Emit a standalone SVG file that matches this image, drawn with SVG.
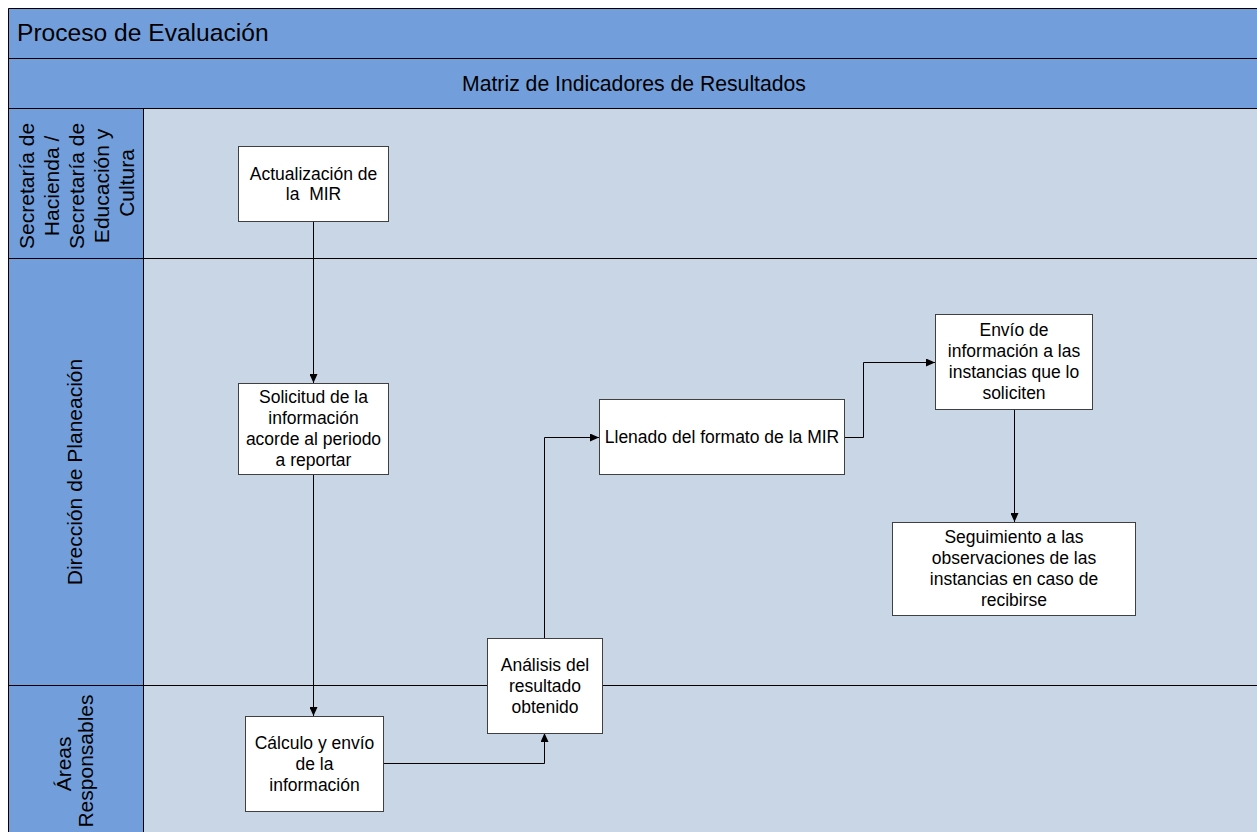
<svg xmlns="http://www.w3.org/2000/svg" width="1257" height="832" viewBox="0 0 1257 832">
<style>
.hdr{fill:#729fdb}
.lanebg{fill:#c9d6e6}
.ln{stroke:#000;stroke-width:1;fill:none}
.node rect{fill:#fff;stroke:#404040;stroke-width:1}
.t{font-family:"Liberation Sans",Arial,sans-serif;font-size:17.5px;fill:#000;text-anchor:middle;white-space:pre}
.lbl{font-family:"Liberation Sans",Arial,sans-serif;font-size:21px;fill:#000;text-anchor:middle}
.sub{font-size:21.2px}
.title{font-family:"Liberation Sans",Arial,sans-serif;font-size:24.6px;fill:#000}
.conn path{stroke:#000;stroke-width:1;fill:none;marker-end:url(#arr)}
</style>
<defs>
<marker id="arr" viewBox="0 0 9 8" refX="9" refY="4" markerWidth="9" markerHeight="8" markerUnits="userSpaceOnUse" orient="auto">
<path d="M0,0 L9,4 L0,8 z" fill="#000"/>
</marker>
</defs>
<g id="background">
<rect class="hdr" x="8" y="8" width="1249" height="100"/>
<rect class="hdr" x="8" y="108" width="135" height="724"/>
<rect class="lanebg" x="143" y="108" width="1114" height="724"/>
<path class="ln" d="M8.5,832 V8.5 H1257 M8,58.5 H1257 M8,108.5 H1257 M8,258.5 H1257 M8,685.5 H1257 M143.5,108 V832"/>
<text class="title" x="17" y="41">Proceso de Evaluación</text>
<text class="lbl sub" x="634" y="91">Matriz de Indicadores de Resultados</text>
</g>
<g id="lane-labels">
<text class="lbl" transform="rotate(-90)">
<tspan x="-183" y="33.5">Secretaría de</tspan>
<tspan x="-183" y="58.5">Hacienda /</tspan>
<tspan x="-183" y="83.5">Secretaría de</tspan>
<tspan x="-183" y="108.5">Educación y</tspan>
<tspan x="-183" y="133.5">Cultura</tspan>
</text>
<text class="lbl" transform="rotate(-90)" x="-472" y="82">Dirección de Planeación</text>
<text class="lbl" transform="rotate(-90)">
<tspan x="-761" y="71">Áreas</tspan>
<tspan x="-761" y="93">Responsables</tspan>
</text>
</g>
<g id="connectors" class="conn">
<path d="M313.5,221 V383"/>
<path d="M313.5,474 V716"/>
<path d="M383,763.5 H544.5 V733"/>
<path d="M544.5,638 V437.5 H599"/>
<path d="M845,437.5 H863.5 V362.5 H935"/>
<path d="M1014.5,409 V522"/>
</g>
<g id="n1" class="node">
<rect x="238.5" y="146.5" width="150" height="75"/>
<text class="t"><tspan x="313.5" y="180">Actualización de</tspan><tspan x="313.5" y="200">la  MIR</tspan></text>
</g>
<g id="n2" class="node">
<rect x="238.5" y="383.5" width="150" height="91"/>
<text class="t"><tspan x="313.5" y="403">Solicitud de la</tspan><tspan x="313.5" y="424">información</tspan><tspan x="313.5" y="445">acorde al periodo</tspan><tspan x="313.5" y="466">a reportar</tspan></text>
</g>
<g id="n3" class="node">
<rect x="245.5" y="716.5" width="138" height="95"/>
<text class="t"><tspan x="314.5" y="749">Cálculo y envío</tspan><tspan x="314.5" y="770">de la</tspan><tspan x="314.5" y="791">información</tspan></text>
</g>
<g id="n4" class="node">
<rect x="487.5" y="638.5" width="115" height="95"/>
<text class="t"><tspan x="545" y="671">Análisis del</tspan><tspan x="545" y="692">resultado</tspan><tspan x="545" y="713">obtenido</tspan></text>
</g>
<g id="n5" class="node">
<rect x="599.5" y="399.5" width="245" height="75"/>
<text class="t" x="722" y="443">Llenado del formato de la MIR</text>
</g>
<g id="n6" class="node">
<rect x="935.5" y="314.5" width="157" height="95"/>
<text class="t"><tspan x="1014" y="336">Envío de</tspan><tspan x="1014" y="357">información a las</tspan><tspan x="1014" y="378">instancias que lo</tspan><tspan x="1014" y="399">soliciten</tspan></text>
</g>
<g id="n7" class="node">
<rect x="892.5" y="522.5" width="243" height="93"/>
<text class="t"><tspan x="1014" y="543">Seguimiento a las</tspan><tspan x="1014" y="564">observaciones de las</tspan><tspan x="1014" y="585">instancias en caso de</tspan><tspan x="1014" y="606">recibirse</tspan></text>
</g>
</svg>
